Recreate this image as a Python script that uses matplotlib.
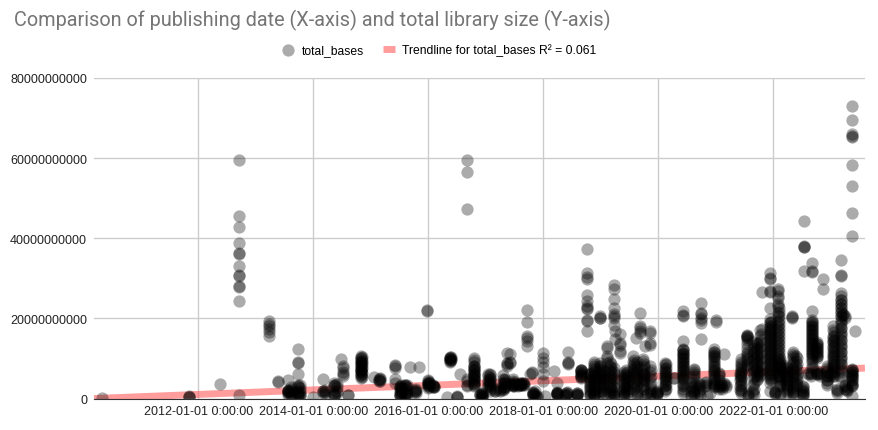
import numpy as np
import pandas as pd
import matplotlib
matplotlib.use("Agg")
from matplotlib import pyplot as plt
from matplotlib import dates as mdates
from matplotlib.ticker import FuncFormatter, MultipleLocator

# publishing dates, and the library sizes (in billions of bases) published on each date
pub_dates = [
    "2010-05-01", "2011-11-01", "2012-05-20", "2012-09-15", "2013-03-25", "2013-05-20",
    "2013-07-25", "2013-09-25", "2014-01-01", "2014-03-03", "2014-05-15", "2014-06-24",
    "2014-07-08", "2014-08-12", "2014-10-30", "2015-01-22", "2015-02-25", "2015-06-01",
    "2015-07-05", "2015-08-07", "2015-09-08", "2015-10-09", "2015-11-05", "2015-12-23",
    "2016-01-01", "2016-02-03", "2016-04-28", "2016-05-19", "2016-07-01", "2016-07-22",
    "2016-09-03", "2016-10-15", "2016-12-08", "2017-01-18", "2017-04-01", "2017-04-22",
    "2017-05-15", "2017-06-05", "2017-06-25", "2017-07-27", "2017-08-07", "2017-08-28",
    "2017-09-18", "2017-10-08", "2017-10-20", "2017-10-30", "2017-11-20", "2017-12-28",
    "2018-01-12", "2018-03-12", "2018-03-27", "2018-05-19", "2018-06-10", "2018-08-02",
    "2018-08-29", "2018-10-03", "2018-10-25", "2018-12-25", "2019-02-13", "2019-03-03",
    "2019-03-24", "2019-04-02", "2019-05-06", "2019-05-26", "2019-07-28", "2019-08-14",
    "2019-09-05", "2019-09-30", "2019-10-12", "2019-10-22", "2019-11-08", "2019-12-25",
    "2020-02-15", "2020-06-06", "2020-08-13", "2020-09-28", "2020-10-26", "2020-11-06",
    "2020-11-25", "2020-12-18", "2021-01-04", "2021-01-19", "2021-02-10", "2021-02-20",
    "2021-06-07", "2021-07-17", "2021-07-27", "2021-09-20", "2021-10-20", "2021-12-13",
    "2022-01-12", "2022-02-02", "2022-02-13", "2022-03-26", "2022-05-03", "2022-05-07",
    "2022-05-28", "2022-07-10", "2022-07-14", "2022-08-11", "2022-09-02", "2022-10-04",
    "2022-11-12", "2022-12-07", "2023-01-18", "2023-02-09", "2023-03-06", "2023-04-01",
    "2023-04-12", "2023-05-14", "2023-06-05",
    # further small libraries in the dense lower band
    "2013-07-26", "2013-09-26", "2014-05-16", "2014-10-31", "2015-07-06", "2015-08-08",
    "2016-01-02", "2016-02-04", "2016-05-20", "2016-10-16", "2016-11-25", "2017-01-29",
    "2017-03-03", "2017-05-04", "2017-06-26", "2017-08-29", "2017-11-10", "2018-03-28",
    "2018-05-30", "2018-08-03", "2018-08-30", "2018-11-17", "2019-01-15", "2019-03-25",
    "2019-06-14", "2019-08-17", "2019-10-01", "2019-11-12", "2019-12-26", "2020-02-16",
    "2020-04-08", "2020-06-07", "2020-07-31", "2020-09-17", "2020-12-19", "2021-02-02",
    "2021-03-05", "2021-06-08", "2021-07-18", "2021-08-28", "2021-10-12", "2021-12-14",
    "2022-01-13", "2022-02-14", "2022-03-27", "2022-05-08", "2022-07-11", "2022-08-28",
    "2022-09-03", "2022-10-05", "2022-10-26", "2022-12-28", "2023-01-19", "2023-02-10",
    "2023-03-22", "2023-04-02", "2023-05-15",
    "2013-08-10", "2013-10-10", "2014-03-15", "2014-05-30", "2014-11-05", "2015-03-01",
    "2015-07-15", "2015-08-20", "2015-10-15", "2016-01-05", "2016-05-22", "2016-10-18",
    "2016-12-10", "2017-01-25", "2017-04-25", "2017-06-28", "2017-08-15", "2017-10-25",
    "2018-03-30", "2018-05-25", "2018-08-05", "2018-09-01", "2018-10-28", "2018-11-20",
    "2018-12-27", "2019-01-20", "2019-03-05", "2019-03-28", "2019-05-28", "2019-06-18",
    "2019-07-30", "2019-08-20", "2019-10-02", "2019-11-15", "2019-12-28", "2020-02-18",
    "2020-06-09", "2020-08-15", "2020-09-20", "2020-10-28", "2020-12-20", "2021-01-22",
    "2021-06-10", "2021-07-20", "2021-08-30", "2021-09-22", "2021-10-15", "2021-12-15",
    "2022-02-04", "2022-02-16", "2022-03-29", "2022-05-10", "2022-05-30", "2022-07-12",
    "2022-09-05", "2022-10-07", "2022-12-10", "2023-01-21", "2023-03-09", "2023-04-14",
    "2023-05-16",
]
sizes_gb = [
    [0.2], [0.5, 0.4, 0.6], [3.7],
    [59.6, 45.5, 42.9, 38.8, 36.0, 36.2, 33.1, 30.6, 30.9, 27.9, 28.1, 24.25, 1.0],
    [19.3, 18.6, 18.0, 17.3, 16.6, 15.6], [4.2, 4.3],
    [4.6, 2.0, 1.6, 1.8, 0.8], [12.3, 8.8, 9.0, 6.2, 3.1, 3.3, 1.5, 1.2, 0.5], [0.4],
    [4.75, 1.8, 2.0, 1.5], [3.5, 3.2, 3.8, 1.0, 0.8, 1.3], [9.75],
    [8.1, 7.5, 6.6, 6.2, 5.6], [1.0, 0.8],
    [10.6, 10.2, 9.7, 9.2, 8.8, 8.3, 7.9, 7.4, 7.0, 6.5, 6.1, 5.6, 5.2], [5.4],
    [4.6, 4.9, 4.3], [8.4, 8.2, 7.6, 4.75, 3.9],
    [3.1, 2.6, 2.0, 1.4, 0.6, 0.9], [3.5, 3.1, 2.5, 1.5, 0.6, 1.0], [7.9],
    [2.25, 2.0, 1.7], [7.9], [21.8, 22.0],
    [4.3, 4.0, 3.4, 2.7, 4.6], [3.1, 3.4, 2.8], [0.4], [10.4, 10.0, 9.6, 9.3, 9.0],
    [0.6, 0.3, 0.5], [6.0],
    [59.6, 56.6, 47.4, 4.75, 4.4, 3.1, 3.4],
    [10.0, 8.1, 7.8, 7.0, 6.6, 6.0, 5.5, 5.0, 4.5, 4.0, 3.1], [1.5, 0.6, 1.0, 0.4],
    [6.0, 5.6, 4.5, 4.2, 3.1, 3.4], [2.25, 2.0, 2.6], [5.8, 4.9, 3.9, 2.6, 2.2],
    [11.4, 8.9, 8.6, 8.0], [11.0, 8.9, 9.2], [4.75, 4.4, 3.5, 3.1, 3.8], [3.1, 3.4],
    [3.5, 3.8, 3.3], [3.5, 3.8, 4.0],
    [22.0, 19.1, 15.6, 15.2, 14.4, 13.1], [6.0], [6.4, 6.6], [1.4, 1.0, 1.2], [0.6, 0.4],
    [11.4, 10.2, 9.0, 7.8, 6.0, 4.3],
    [0.6], [6.8], [1.4, 1.1], [1.0, 0.8], [11.6, 8.9, 8.6, 9.2], [1.0, 0.8],
    [7.0, 6.5, 5.6, 5.2],
    [37.25, 31.25, 30.2, 29.9, 25.75, 24.3, 23.0, 22.25, 22.6, 19.3, 19.6, 16.8],
    [6.4, 6.0, 5.0, 4.2, 3.1, 2.5, 1.4, 0.8],
    [20.6, 20.2, 20.0, 8.9, 8.2, 7.5, 6.7, 5.5, 4.5, 3.4, 1.4],
    [13.1, 12.6, 10.6, 10.2, 8.9], [9.0, 8.0, 7.0, 6.0, 5.0, 4.0, 3.0, 1.5],
    [28.25, 27.25, 24.9, 22.7, 21.0, 20.5, 20.2, 18.25, 1.0], [16.8, 14.75],
    [16.0, 13.9, 13.4, 11.4, 11.8], [6.5, 5.5, 4.0, 3.0, 1.5, 1.2],
    [10.6, 9.0, 8.2, 7.0, 6.0, 5.0, 3.1, 3.6], [15.2],
    [21.4, 18.1, 17.6, 16.4, 16.8], [9.75, 9.3, 7.0, 6.3, 5.0, 4.2, 3.1], [13.1, 0.6],
    [1.4, 1.1], [16.8, 16.4, 13.9, 13.4], [1.6, 1.3, 1.0],
    [8.9, 8.3, 7.0, 6.2, 5.0, 4.0, 3.1, 2.0],
    [21.8, 20.6, 20.9, 14.3, 12.25, 11.4, 10.5, 9.5, 8.5, 7.5, 6.5, 5.5, 4.5, 3.1, 1.8, 1.4],
    [7.25, 6.5, 4.75, 3.5, 2.25, 1.5], [23.9, 21.4, 21.0, 20.0, 19.6, 18.9, 14.9],
    [3.9, 3.2], [0.6], [1.5], [12.25, 11.0, 10.0, 8.1, 7.2, 6.0, 4.0, 3.1], [19.6, 19.2],
    [6.4, 5.5, 3.1, 2.4], [2.9, 2.5], [11.0, 3.9, 3.4],
    [6.4, 5.6, 4.6, 3.1, 2.2], [15.75, 15.4, 15.1, 11.0, 10.6, 8.1, 7.6], [1.4, 1.0, 0.6],
    [13.9, 12.5, 11.0, 9.8, 8.5, 7.2, 6.0, 4.75], [26.6, 17.25],
    [31.4, 29.75, 30.0, 26.6, 26.9, 22.7, 19.75, 18.9, 18.0, 17.0, 16.0, 15.0, 14.0, 13.0,
     12.0, 11.0, 10.0, 9.0, 8.0, 7.0, 6.0, 4.75, 1.8],
    [1.8, 1.2],
    [27.25, 26.8, 25.5, 25.0, 23.5, 23.0, 21.25, 20.5, 19.0, 18.0, 17.0, 16.0, 15.0, 14.0,
     13.0, 12.0, 11.0, 10.0, 9.0, 8.0, 7.0, 5.6],
    [1.4, 0.8], [8.1, 7.0, 6.0, 5.0, 3.9, 3.4], [20.6, 20.0, 20.3], [1.4, 1.0],
    [10.6, 9.3, 8.0, 6.8, 5.6, 3.9, 3.2], [1.4, 1.0, 0.7], [44.3, 37.7, 37.9, 38.0, 31.8],
    [6.4, 6.0],
    [33.9, 31.8, 31.5, 21.8, 19.0, 18.0, 17.0, 16.0, 15.0, 14.0, 13.0, 12.0, 11.0],
    [14.0, 13.0, 12.0, 11.0, 10.0, 6.4, 6.0], [29.9, 27.25], [8.1, 7.0, 5.6, 4.5, 3.9],
    [18.1, 15.6, 14.3, 13.0, 11.8, 10.5, 9.3, 8.0, 6.8, 5.6], [1.8, 1.4],
    [34.5, 30.6, 30.8, 26.4, 25.5, 24.5, 23.5, 22.5, 21.5, 20.6, 19.0, 17.5, 16.0, 14.5,
     13.0, 11.5, 10.0, 8.5, 7.0, 5.0],
    [20.6, 20.2], [2.25, 2.0],
    [73.1, 69.5, 66.0, 65.2, 65.5, 58.25, 53.1, 46.25, 40.6, 7.25, 6.5, 5.8, 5.0, 4.0, 3.1, 0.6],
    [16.8],
    # further small libraries in the dense lower band
    [1.8, 2.2, 1.4], [3.0, 1.8, 1.0], [3.4, 1.1], [10.0, 9.0, 8.0, 7.2, 6.8, 5.8],
    [3.0, 1.0], [3.3, 1.2],
    [3.9, 3.1, 3.7], [3.0, 3.2, 2.9], [10.2, 9.8], [9.0, 7.4, 5.8, 4.8, 3.6], [1.0, 0.8, 1.2],
    [6.0, 5.2, 4.5, 3.7, 3.0, 2.4, 2.0],
    [1.8, 2.0, 2.3], [4.75, 4.2, 3.6, 3.0, 2.8], [3.5, 3.3, 3.6], [3.6, 3.4], [1.8, 1.2, 0.6],
    [3.9, 1.4, 1.6, 1.2],
    [1.4, 1.6, 1.2], [1.5, 1.2], [7.2, 6.8, 6.0, 5.6],
    [9.0, 8.0, 7.0, 6.0, 5.0, 4.0, 3.0, 2.0, 1.0, 0.6], [7.0, 6.0, 5.0, 4.0, 3.0, 2.0, 1.0],
    [7.5, 6.0, 4.5, 3.0, 1.5, 0.6],
    [7.0, 6.0, 5.0, 4.0, 3.0, 2.0, 1.0], [9.0, 7.5, 6.0, 4.5, 3.0, 1.5, 0.6],
    [8.0, 6.0, 5.5, 4.6], [8.0, 6.5, 5.0, 3.5, 2.0, 1.0], [1.8],
    [7.5, 6.6, 5.5, 4.5, 3.5, 2.5],
    [5.2, 5.0], [12.0, 11.0, 10.0, 9.0, 8.0, 7.0, 6.0, 5.0], [4.0, 3.0, 2.0, 1.0, 0.6],
    [4.0, 3.0, 2.0, 1.5], [11.5, 10.5, 9.0, 7.8, 6.5, 5.0, 4.5, 3.5], [4.0, 3.5],
    [3.5, 3.0], [9.75, 8.5, 7.5, 6.0, 5.0, 4.0, 2.5, 1.5], [15.5, 15.6],
    [14.0, 12.5, 11.0, 9.5, 8.0, 6.5, 5.0, 3.5, 2.0, 1.5],
    [17.0, 15.5, 14.0, 12.5, 11.0, 9.5, 8.0, 6.5, 5.5],
    [19.0, 17.5, 16.5, 15.5, 14.5, 13.5, 12.5, 11.5, 10.5, 9.5, 8.5, 7.5, 6.5, 5.5, 4.0],
    [1.4, 1.6], [9.75, 9.0, 8.0, 7.0, 6.0, 5.0, 4.0, 3.1], [7.5, 6.5, 5.5, 4.5, 3.0, 2.0, 1.5],
    [11.5, 10.0, 8.5, 7.0, 5.5, 4.0, 2.5, 1.6], [3.1, 2.5, 2.0], [6.4, 6.0, 5.5],
    [19.5, 18.5, 17.5, 16.5, 15.5, 14.5, 13.5, 12.5, 11.5, 10.5, 9.0, 7.5],
    [13.5, 12.5, 11.5, 10.5], [6.4, 6.0, 5.5], [6.4, 6.0, 5.5],
    [17.0, 15.0, 14.0, 12.5, 11.0, 10.0, 8.5, 7.5, 6.0], [2.25, 2.5],
    [21.0, 20.8], [3.1, 2.5, 3.5], [7.0, 6.0, 5.5, 4.5, 3.5],
    [0.8, 1.2, 1.6, 2.0, 2.4, 3.0], [0.6, 1.0, 1.4, 2.0, 2.6, 3.4], [1.2, 1.6, 2.2],
    [1.4, 2.0, 2.8, 3.6], [5.4, 6.3, 7.6, 8.5, 9.4, 10.4], [4.4, 4.8, 5.0],
    [0.8, 1.6, 2.3, 2.9, 3.4], [0.8, 1.4, 2.0, 2.8, 3.3], [1.8, 2.4, 1.4],
    [2.9, 3.3, 3.8, 4.2], [9.5, 9.9, 10.3], [3.4, 4.2, 5.2, 6.2, 7.2, 8.0, 9.5],
    [0.5, 0.9, 1.3], [3.2, 3.8, 4.4, 5.0, 5.8], [2.4, 3.2, 4.0, 4.6], [3.2, 3.7, 4.2],
    [3.4, 3.6, 3.9], [0.8, 1.3, 1.6],
    [1.0, 1.3], [0.9, 1.3], [0.9, 1.3], [5.4, 6.2, 7.0], [1.0, 1.8, 2.8, 3.6, 4.5, 5.5, 6.2],
    [0.8, 1.5, 2.5, 3.5, 4.5, 5.5, 6.5, 7.5, 8.5],
    [2.0, 3.0, 4.0, 5.0, 6.0, 7.0, 8.0], [1.5, 2.5, 3.5, 4.5, 5.5, 6.5],
    [1.0, 2.0, 2.5, 3.5, 4.5, 5.5, 6.5, 7.5, 8.5], [1.0, 2.0, 3.5, 5.0, 6.5],
    [1.0, 2.0, 2.5, 3.5, 4.5, 5.0, 6.0], [1.5, 2.5, 3.5, 4.5, 5.5, 6.5],
    [2.5, 4.0, 5.5, 6.5, 7.5, 8.5, 9.5], [1.0, 2.0, 3.5, 5.0, 6.5, 8.0],
    [2.5, 3.5, 4.5, 5.8, 7.5, 8.5], [1.5, 2.5, 4.0, 5.5, 7.0], [1.2, 1.5],
    [2.5, 3.5, 4.5, 5.5, 6.5, 7.5, 8.5],
    [2.5, 3.5, 4.0, 5.0, 6.0, 7.0, 8.0, 9.0, 10.0, 11.0, 12.0],
    [1.0, 2.0, 3.0, 4.0, 5.5, 6.0, 7.0], [1.0, 2.5, 3.5], [3.5, 4.2],
    [3.0, 4.0, 5.5, 7.0, 8.5, 9.5, 10.5, 11.5], [2.8, 3.5, 4.5, 6.0],
    [2.0, 3.5, 4.5, 5.5, 6.5, 7.0, 8.0, 9.0], [8.6, 9.5, 10.2, 11.5, 12.5, 13.5, 14.5],
    [1.0, 2.5, 4.0, 5.5, 7.0, 8.5, 10.0, 11.5, 13.0],
    [4.5, 5.5, 6.5, 7.5, 9.0, 10.5, 12.0, 13.5],
    [6.0, 7.0, 8.5, 10.0, 11.5, 13.0, 14.5, 16.0],
    [4.5, 5.0, 6.0, 7.0, 8.0, 9.0, 10.0, 11.0, 12.0, 13.0, 14.0, 15.0, 16.0, 17.0, 18.0, 19.0],
    [5.5, 6.5, 7.5, 8.5, 9.5, 10.5, 11.5, 12.5, 13.5, 14.5, 15.5, 16.5, 17.5, 18.5, 19.5,
     20.5, 21.5, 22.5],
    [3.5, 4.5, 5.5, 6.5, 7.5, 8.5], [2.5, 3.5, 4.5, 5.5, 6.5, 7.5],
    [2.0, 3.0, 4.5, 6.0, 7.5, 9.0, 10.5, 11.0], [3.5, 4.5, 5.2, 6.2, 7.4, 8.6, 10.0],
    [1.2, 1.8, 2.8],
    [10.0, 11.0, 12.0, 13.0, 14.0, 15.0, 16.0, 17.0, 18.0, 19.0, 8.0, 9.5],
    [10.5, 11.5, 12.5, 13.5, 6.2, 6.8], [3.5, 4.5, 5.5, 6.5, 7.5],
    [5.5, 6.5, 7.5, 8.5, 9.5, 10.5, 11.5, 12.5, 13.5, 14.5, 15.5, 16.5],
    [5.5, 6.5, 7.5, 8.5, 9.5, 10.5, 11.5, 12.5, 13.5, 14.5, 15.5, 16.5, 17.5, 18.5, 19.5,
     20.5, 21.5, 22.5, 23.5, 24.5],
    [2.5, 3.0], [3.5, 4.5, 5.5, 6.5, 7.0],
]

# linear trendline as drawn on the chart (billions of bases at both ends of the axis)
trend_dates = ["2010-03-10", "2023-08-07"]
trend_gb = [0.0, 7.6]

x = np.repeat(pd.to_datetime(pub_dates).values, [len(v) for v in sizes_gb])
y = np.concatenate([np.array(v) for v in sizes_gb]) * 1e9

plt.rcParams['font.family'] = ['Liberation Sans', 'DejaVu Sans']

fig = plt.figure(figsize=(8.79, 4.31), dpi=100)
ax = fig.add_axes([0.107, 0.073, 0.877, 0.744])

ax.plot(pd.to_datetime(trend_dates), np.array(trend_gb) * 1e9, color='#ff5c5c', alpha=0.6,
        lw=5, solid_capstyle='butt', label='Trendline for total_bases R² = 0.061', zorder=2)
ax.scatter(x, y, s=78, color='black', alpha=0.33, linewidths=0, label='total_bases', zorder=3)

ax.set_xlim(pd.Timestamp(trend_dates[0]), pd.Timestamp(trend_dates[1]))
ax.set_ylim(0, 80e9)
ax.yaxis.set_major_locator(MultipleLocator(20e9))
ax.yaxis.set_major_formatter(FuncFormatter(lambda v, p: f"{v:.0f}"))
ax.xaxis.set_major_locator(mdates.YearLocator(2))
ax.xaxis.set_major_formatter(FuncFormatter(
    lambda v, p: f"{mdates.num2date(v):%Y-%m-%d} 0:00:00"))

ax.grid(True, color='#cccccc', lw=1)
ax.set_axisbelow(True)
for side in ['top', 'right', 'left']:
    ax.spines[side].set_visible(False)
ax.spines['bottom'].set_color('#333333')
ax.spines['bottom'].set_zorder(4)
ax.tick_params(length=0, labelsize=9, labelcolor='#222222')
ax.tick_params(axis='y', pad=5)
ax.tick_params(axis='x', pad=5)

fig.text(0.016, 0.953, "Comparison of publishing date (X-axis) and total library size (Y-axis)",
         fontsize=14.3, color='#757575', family=['Roboto', 'DejaVu Sans'], va='center')

handles, labels = ax.get_legend_handles_labels()
fig.legend(handles[::-1], labels[::-1], loc='center', bbox_to_anchor=(0.5, 0.882), ncol=2,
           frameon=False, fontsize=8.7, handlelength=1.0, handletextpad=0.6, columnspacing=1.6)

plt.savefig("out.png")
